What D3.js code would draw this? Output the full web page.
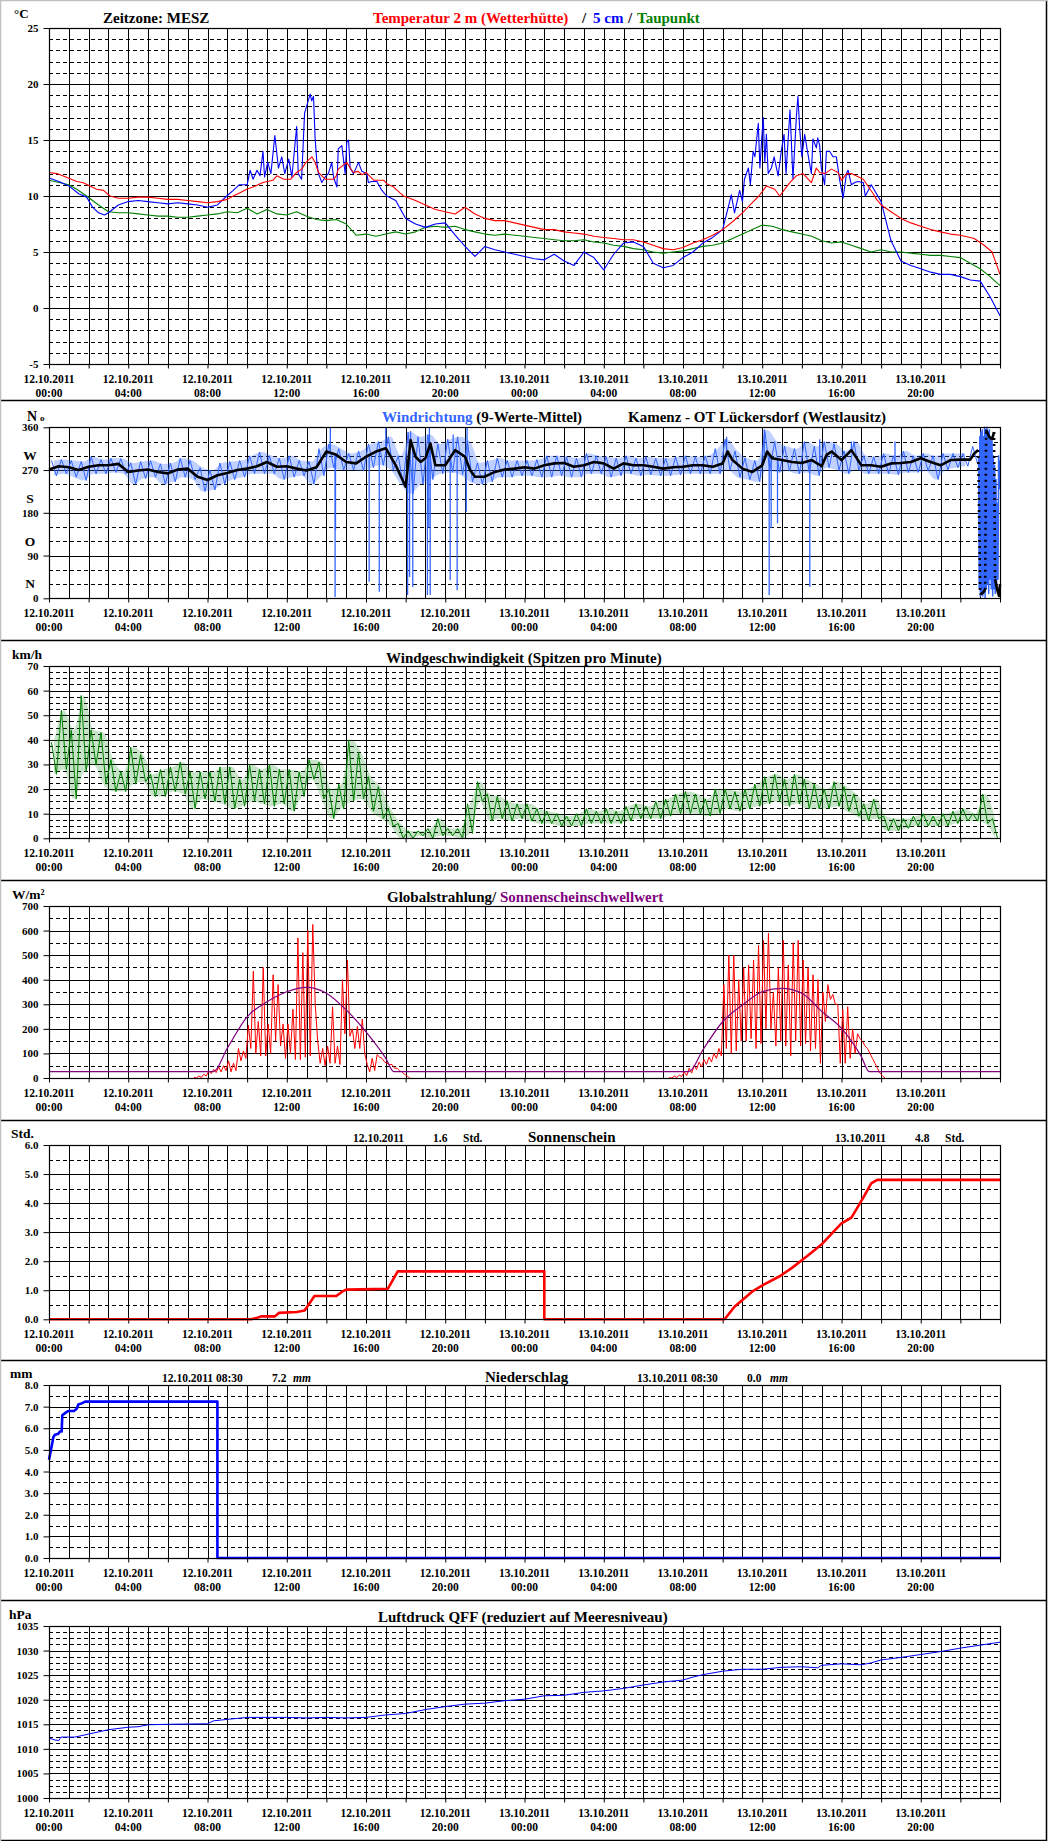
<!DOCTYPE html>
<html><head><meta charset="utf-8">
<script src="https://cdn.jsdelivr.net/npm/d3@7/dist/d3.min.js"></script>
<style>
body{margin:0;background:#fff;}
svg{display:block;}
text{font-family:"Liberation Serif","Times New Roman",serif;font-weight:bold;}
</style></head><body>
<svg id="c" width="1052" height="1841"></svg>
<script>
// ---------------- DATA ----------------
const xLabelHours = [0,4,8,12,16,20,24,28,32,36,40,44];
const xLabelDates = ["12.10.2011","12.10.2011","12.10.2011","12.10.2011","12.10.2011","12.10.2011","13.10.2011","13.10.2011","13.10.2011","13.10.2011","13.10.2011","13.10.2011"];
const xLabelTimes = ["00:00","04:00","08:00","12:00","16:00","20:00","00:00","04:00","08:00","12:00","16:00","20:00"];

// Temperature 2 m [hour, °C]
const temp2m = [[0,12.1],[0.4,12.0],[0.85,11.7],[1.4,11.3],[1.7,11.2],[2.07,10.9],[2.4,10.6],[2.75,10.5],[3.08,10.0],[3.5,9.8],[4,9.8],[4.5,9.9],[5,9.9],[5.5,9.8],[6,9.7],[6.5,9.7],[7,9.6],[7.5,9.5],[8,9.4],[8.5,9.5],[9.0,9.7],[9.3,10.0],[9.64,10.3],[9.98,10.6],[10.3,10.8],[10.8,11.2],[11.3,11.4],[11.5,11.8],[11.85,11.5],[12.2,11.5],[12.5,12.1],[12.75,12.4],[12.97,13.0],[13.27,13.5],[13.43,13.0],[13.6,12.1],[13.94,11.5],[14.36,11.5],[14.5,11.8],[14.6,12.4],[15.03,13.0],[15.2,12.5],[15.37,12.1],[15.6,12.2],[15.8,11.9],[16.0,12.1],[16.4,11.4],[16.9,11.4],[17.05,11.1],[17.4,10.8],[17.7,10.3],[17.9,10.0],[18.5,9.6],[19,9.2],[19.5,8.8],[20,8.6],[20.5,8.4],[21,9.0],[21.5,8.4],[22,8.0],[22.5,7.8],[23,7.8],[23.5,7.6],[24,7.4],[24.5,7.2],[25,7.0],[25.5,7.0],[26,6.8],[26.5,6.7],[27,6.6],[27.5,6.4],[28,6.3],[28.5,6.2],[29,6.1],[29.5,6.1],[30,5.9],[30.5,5.6],[31,5.3],[31.5,5.2],[32,5.4],[32.5,5.8],[33,6.1],[33.5,6.5],[34,7.0],[34.5,7.7],[35,8.5],[35.5,9.4],[35.83,10.0],[36.05,10.5],[36.21,10.9],[36.63,10.6],[36.88,10.0],[37.39,11.2],[37.72,11.8],[38.06,12.0],[38.48,11.2],[38.73,12.5],[38.9,12.1],[39.16,12.0],[39.49,12.4],[39.83,12.1],[40.0,11.4],[40.25,12.0],[40.5,12.0],[41.1,11.5],[41.6,10.2],[41.77,9.7],[42,9.2],[42.5,8.6],[43,8.0],[43.5,7.6],[44,7.3],[44.5,7.0],[45,6.8],[45.5,6.6],[46,6.5],[46.7,6.2],[47.2,5.6],[47.6,5.0],[48,3.0]];
// Temperature 5 cm [hour, °C]
const temp5cm = [[0,11.6],[0.5,11.3],[1,10.9],[1.5,10.2],[1.9,9.9],[2.2,9.0],[2.5,8.5],[2.8,8.3],[3,8.5],[3.5,9.2],[4,9.5],[4.5,9.6],[5,9.5],[5.5,9.4],[6,9.3],[6.5,9.4],[7,9.3],[7.5,9.2],[8,9.0],[8.5,9.2],[8.97,10.0],[9.3,10.5],[9.6,11.0],[10.0,11.0],[10.15,12.3],[10.3,11.5],[10.5,12.3],[10.65,11.8],[10.8,14.0],[10.88,11.7],[11.04,13.0],[11.2,12.0],[11.4,15.4],[11.58,12.5],[11.75,13.5],[11.9,12.0],[12.1,13.3],[12.26,11.7],[12.5,16.2],[12.58,12.0],[12.75,11.5],[12.9,17.4],[13.0,18.0],[13.18,19.1],[13.26,18.5],[13.35,18.9],[13.43,15.2],[13.52,13.0],[13.6,12.0],[13.77,11.2],[13.94,11.7],[14.1,12.0],[14.27,13.0],[14.36,11.7],[14.53,10.8],[14.6,14.2],[14.78,14.5],[14.95,12.0],[15.03,14.8],[15.12,15.0],[15.2,12.5],[15.37,12.0],[15.62,13.0],[15.79,12.2],[16.04,12.0],[16.12,11.2],[16.3,11.3],[16.55,11.3],[16.8,10.5],[17.05,10.0],[17.5,9.6],[18,8.0],[18.5,7.5],[19,7.2],[19.5,7.5],[20,7.6],[20.5,6.5],[21,5.5],[21.5,4.6],[22,5.5],[22.5,5.2],[23,5.0],[23.5,4.8],[24,4.6],[24.5,4.4],[25,4.3],[25.5,4.8],[26,4.2],[26.5,3.8],[27,5.0],[27.5,4.5],[28,3.4],[28.5,4.8],[29,5.8],[29.5,5.9],[30,5.5],[30.5,4.0],[31,3.6],[31.5,3.8],[32,4.5],[32.5,5.0],[33,5.8],[33.5,6.3],[34,7.0],[34.44,10.1],[34.6,8.5],[34.86,10.5],[35.0,9.5],[35.1,11.5],[35.3,12.5],[35.4,11.0],[35.54,14.0],[35.63,13.5],[35.8,16.5],[35.88,12.5],[35.97,15.0],[36.05,17.0],[36.13,13.0],[36.21,15.5],[36.3,12.0],[36.46,12.5],[36.6,13.5],[36.8,11.8],[36.96,14.0],[37.1,15.5],[37.2,12.0],[37.4,17.7],[37.55,11.5],[37.72,17.0],[37.8,18.9],[37.89,16.0],[38.0,13.5],[38.14,15.5],[38.3,13.8],[38.48,12.0],[38.56,15.1],[38.73,14.3],[38.8,15.2],[38.9,14.5],[38.98,12.5],[39.15,11.0],[39.24,14.0],[39.4,14.0],[39.57,13.5],[39.74,13.5],[39.9,11.5],[40.08,9.8],[40.25,12.0],[40.33,12.3],[40.5,11.0],[40.67,11.2],[40.83,11.3],[41.1,11.2],[41.2,10.0],[41.5,11.0],[42,9.5],[42.5,6.0],[43,4.2],[43.5,3.8],[44,3.5],[44.5,3.2],[45,3.0],[45.5,3.0],[46,2.8],[46.5,2.5],[47,2.4],[47.5,1.0],[48,-0.7]];
// Dew point [hour, °C]
const dewPoint = [[0,11.4],[0.5,11.2],[1,11.0],[1.4,10.6],[1.9,10.0],[2.5,9.2],[3,8.6],[3.5,8.5],[4,8.5],[4.5,8.4],[5,8.3],[5.5,8.2],[6,8.2],[6.5,8.1],[7,8.1],[7.5,8.2],[8,8.3],[8.5,8.4],[9,8.6],[9.5,8.5],[10,8.9],[10.5,8.4],[11,8.8],[11.5,8.4],[12,8.3],[12.5,8.6],[13,8.2],[13.5,7.9],[14,7.8],[14.5,7.9],[15,7.5],[15.5,6.5],[16,6.6],[16.5,6.4],[17,6.6],[17.5,6.8],[18,6.6],[18.5,6.8],[19,7.2],[19.5,7.3],[20,7.2],[20.5,7.3],[21,7.0],[21.5,6.8],[22,6.6],[22.5,6.5],[23,6.6],[23.5,6.5],[24,6.4],[24.5,6.3],[25,6.2],[25.5,6.1],[26,6.0],[26.5,6.0],[27,6.1],[27.5,5.9],[28,5.8],[28.5,5.6],[29,5.5],[29.5,5.3],[30,5.2],[30.5,5.0],[31,4.9],[31.5,5.0],[32,5.1],[32.5,5.3],[33,5.5],[33.5,5.6],[34,5.8],[34.5,6.2],[35,6.6],[35.5,7.0],[36,7.4],[36.5,7.3],[37,7.0],[37.5,6.8],[38,6.6],[38.5,6.4],[39,6.0],[39.5,5.8],[40,5.9],[40.5,5.6],[41,5.3],[41.5,5.0],[42,5.2],[42.5,5.0],[43,5.0],[43.5,4.9],[44,4.8],[44.5,4.7],[45,4.7],[45.5,4.6],[46,4.5],[46.5,4.0],[47,3.5],[47.5,2.8],[48,2.0]];

// Wind direction: raw range per 30-min bin (hi / lo), 9-value mean, spikes
const dirBinStart = 0, dirBinStep = 0.5;
const dirHi = [290,292,290,288,298,292,295,294,285,288,290,283,285,295,290,275,270,285,288,290,300,308,300,295,300,290,288,315,325,315,305,310,325,330,340,300,350,340,345,325,335,340,330,285,290,295,290,290,
               290,292,300,300,298,295,305,300,298,295,300,295,298,295,295,298,300,298,300,315,335,310,295,290,355,330,320,315,330,320,330,325,310,330,300,298,305,300,310,300,305,300,305,305,305,320];
const dirLo = [258,262,255,248,262,262,265,262,240,252,255,240,245,255,250,225,228,240,250,255,262,262,262,250,255,258,240,258,275,270,270,268,275,280,270,240,220,240,250,262,265,260,245,240,245,255,255,258,
               258,255,255,258,255,255,262,262,255,258,262,258,260,258,258,260,262,262,262,262,270,255,250,245,270,265,268,262,265,258,275,270,262,270,262,262,262,260,265,265,268,250,270,275,278,282];
const dirTail = [[46.92,300],[46.95,20],[46.98,340],[47.01,5],[47.04,350],[47.07,10],[47.1,355],[47.13,5],[47.16,340],[47.19,15],[47.22,360],[47.25,0],[47.28,355],[47.31,20],[47.34,360],[47.37,30],[47.4,350],[47.43,10],[47.46,355],[47.5,40],[47.53,340],[47.56,20],[47.6,330],[47.63,5],[47.66,300],[47.7,20],[47.73,280],[47.76,10],[47.8,250],[47.83,30],[47.86,200],[47.9,40],[47.93,300],[47.96,230],[48,290]];
const dirMean = [[0,271],[0.5,278],[1,276],[1.5,270],[2,277],[2.5,280],[3,280],[3.5,283],[4,266],[4.5,269],[5,271],[5.5,266],[6,263],[6.5,271],[7,273],[7.5,256],[8,249],[8.5,259],[9,264],[9.5,270],[10,273],[10.5,278],[11,287],[11.5,277],[12,278],[12.5,273],[13,269],[13.5,276],[14,309],[14.5,302],[15,287],[15.5,284],[16,298],[16.5,309],[17,316],[17.5,280],[18,235],[18.25,333],[18.5,298],[18.75,287],[19,295],[19.25,326],[19.5,280],[20,280],[20.5,312],[21,298],[21.25,270],[21.5,256],[22,256],[22.5,266],[23,271],[23.5,273],[24,276],[24.5,273],[25,280],[25.5,284],[26,285],[26.5,277],[27,280],[27.5,287],[28,284],[28.5,273],[29,284],[29.5,280],[30,280],[30.5,277],[31,273],[31.5,276],[32,277],[32.5,280],[33,280],[33.5,277],[34,284],[34.25,309],[34.5,291],[35,273],[35.5,266],[36,280],[36.25,309],[36.5,295],[37,291],[37.5,287],[38,285],[38.5,291],[39,278],[39.25,302],[39.5,309],[40,291],[40.5,312],[41,280],[41.5,280],[42,277],[42.5,284],[43,285],[43.5,287],[44,295],[44.5,287],[45,280],[45.5,291],[46,292],[46.5,292],[46.7,305],[46.9,312],[47.0,8],[47.15,12],[47.25,18],[47.3,355],[47.45,340],[47.6,335],[47.7,350],[47.75,40],[47.85,20],[47.95,5],[48,30]];
const dirSpikes = [[14.2,360],[14.44,3],[14.46,144],[16.16,35],[16.67,14],[17.0,360],[18.1,7],[18.2,45],[18.25,352],[18.36,24],[19.1,7],[19.17,150],[19.2,360],[19.24,7],[20.25,38],[20.4,345],[20.6,17],[21.06,182],[21.1,360],[34.2,340],[36.1,355],[36.35,7],[36.45,148],[36.77,158],[38.4,24],[38.9,335],[40.5,330],[42.7,330]];

// Wind speed peaks (km/h): range per 30-min bin
const windBinStart = 0, windBinStep = 0.5;
const windHi = [39,52,44,58,44,43,32,27,37,34,26,28,29,31,27,27,27,29,29,24,30,28,30,28,28,27,32,31,20,22,40,35,25,21,12,6,3,3,4,8,4,4,14,23,18,17,15,14,
                14,12,11,10,9,10,12,11,12,11,13,14,13,15,16,18,19,18,16,20,20,19,20,22,25,26,24,26,24,22,20,23,21,18,14,16,9,8,8,9,10,9,10,11,12,10,18,8];
const windLo = [26,28,16,27,30,22,19,19,22,23,17,17,19,18,12,16,15,14,12,13,15,14,13,14,11,17,24,16,8,12,15,16,11,8,5,0,0,1,0,1,1,0,2,15,7,8,7,8,
                7,6,6,5,5,5,6,6,6,6,7,8,8,8,9,10,10,10,9,10,12,11,12,13,14,15,13,14,12,12,12,13,11,9,7,8,3,3,4,5,5,5,5,6,7,7,6,0];

// Global radiation (W/m²): range per 15-min bin during daylight
const radStep = 0.25;
const rad12Start = 7.25;
const rad12Hi = [3,8,15,28,35,45,50,70,60,120,110,215,435,230,450,220,420,380,220,220,280,570,510,600,625,150,120,130,290,130,400,480,200,210,240,55,80,95,80,60,55,40,25,10];
const rad12Lo = [0,2,8,18,22,25,30,25,30,70,80,120,100,90,90,100,150,130,80,100,75,75,85,90,300,60,50,60,60,55,180,170,120,120,100,25,30,85,65,55,40,30,15,0];
const rad13Start = 31.25;
const rad13Hi = [2,8,12,25,40,50,65,75,85,100,120,380,500,500,400,450,460,480,540,560,590,350,450,560,460,550,560,480,450,420,400,350,380,340,300,280,290,200,180,150,120,80,40,10];
const rad13Lo = [0,2,6,10,20,35,45,55,65,80,90,120,100,110,150,150,160,120,140,200,200,130,150,130,90,150,130,140,110,120,60,230,320,300,60,60,80,100,160,130,100,60,20,0];
// Sunshine threshold [hour, W/m²]
const sunThreshold = [[0,26],[8.3,26],[9,121],[10,249],[11,310],[12,351],[13,369],[14,345],[15,277],[16,188],[17,80],[17.4,26],[32.3,26],[33,114],[34,229],[35,297],[36,351],[37,365],[38,345],[39,271],[40,202],[41,87],[41.4,26],[48,26]];

// Sunshine duration (h) cumulative [hour, value]
const sunshine = [[0,0],[10.2,0],[10.5,0.05],[10.7,0.1],[11.4,0.1],[11.6,0.22],[12.5,0.25],[12.9,0.3],[13.1,0.5],[13.4,0.8],[14.5,0.8],[14.8,0.95],[15.0,1.02],[17.1,1.05],[17.6,1.65],[25.0,1.65],[25.0,0],[34.1,0],[34.6,0.43],[35.5,0.96],[36.1,1.2],[36.9,1.49],[37.5,1.77],[38.4,2.25],[39.0,2.58],[39.6,3.02],[40.0,3.3],[40.5,3.5],[41.1,4.19],[41.5,4.68],[41.8,4.8],[48,4.8]];
const sunTotals = [{date:"12.10.2011", value:"1.6"},{date:"13.10.2011", value:"4.8"}];

// Precipitation (mm) cumulative [hour, value]
const precip = [[0,4.54],[0.05,4.77],[0.13,5.15],[0.22,5.6],[0.3,5.7],[0.47,5.75],[0.55,5.85],[0.64,5.85],[0.67,6.6],[0.81,6.7],[0.98,6.8],[1.26,6.8],[1.4,6.9],[1.48,7.1],[1.65,7.15],[1.82,7.23],[8.5,7.23],[8.5,0],[48,0]];
const precipTotals = [{date:"12.10.2011 08:30", value:"7.2"},{date:"13.10.2011 08:30", value:"0.0"}];

// Pressure QFF (hPa) [hour, value]
const pressure = [[0,1012.2],[0.3,1011.8],[0.5,1011.7],[0.6,1012.4],[1.3,1012.4],[2,1013.0],[3,1013.9],[4,1014.4],[4.5,1014.5],[5,1014.9],[6,1015.0],[8,1015.1],[8.3,1015.7],[9,1016.0],[9.5,1016.2],[10,1016.4],[12,1016.4],[13,1016.3],[14,1016.4],[15,1016.3],[16,1016.4],[17,1016.9],[18,1017.2],[19,1018.0],[20,1018.6],[21,1019.1],[22,1019.3],[23,1019.8],[24,1020.1],[25,1020.8],[26,1020.9],[27,1021.5],[28,1021.8],[29,1022.3],[30,1023.0],[31,1023.6],[32,1024.0],[32.5,1024.6],[33,1025.1],[34,1025.8],[35,1026.2],[36,1026.2],[37,1026.6],[38,1026.7],[38.8,1026.5],[39,1027.0],[40,1027.3],[41,1027.1],[41.5,1027.5],[42,1028.1],[43,1028.6],[44,1029.2],[45,1029.8],[46,1030.5],[47,1031.1],[48,1031.7]];

// ---------------- DRAWING ----------------
const svg = d3.select("#c");
const W = 1052, H = 1841;
const X0 = 49, X1 = 1000;
const x = d3.scaleLinear().domain([0, 48]).range([X0, X1]);

svg.append("rect").attr("width", W).attr("height", H).attr("fill", "#fff");

function panel(cfg) {
  const y = d3.scaleLinear().domain(cfg.domain).range([cfg.bottom, cfg.top]);
  const g = svg.append("g");
  const eps = 1e-6;
  const all = d3.range(cfg.domain[0], cfg.domain[1] + eps, cfg.minor);
  const minors = all.filter(v => Math.abs(Math.round(v / cfg.major) * cfg.major - v) > eps);
  const majors = d3.range(cfg.domain[0], cfg.domain[1] + eps, cfg.major);
  g.selectAll(".mn").data(minors).join("line")
    .attr("x1", X0).attr("x2", X1).attr("y1", d => Math.round(y(d)) + 0.5).attr("y2", d => Math.round(y(d)) + 0.5)
    .attr("stroke", "#000").attr("stroke-width", 1).attr("stroke-dasharray", "4,3");
  g.selectAll(".mj").data(majors).join("line")
    .attr("x1", X0).attr("x2", X1).attr("y1", d => Math.round(y(d)) + 0.5).attr("y2", d => Math.round(y(d)) + 0.5)
    .attr("stroke", "#000").attr("stroke-width", 1);
  g.selectAll(".vl").data(d3.range(0, 49, 1)).join("line")
    .attr("x1", d => Math.round(x(d)) + 0.5).attr("x2", d => Math.round(x(d)) + 0.5)
    .attr("y1", cfg.top).attr("y2", cfg.bottom)
    .attr("stroke", "#000").attr("stroke-width", 1);
  const ay = g.append("g").attr("transform", `translate(${Math.round(X0)+0.5},0)`)
    .call(d3.axisLeft(y).tickValues(majors).tickSize(6).tickPadding(5).tickFormat(cfg.fmt || (d => d)));
  ay.select(".domain").remove();
  ay.selectAll("line").attr("stroke", "#000");
  ay.selectAll("text").attr("font-size", 11).attr("fill", "#000")
    .attr("font-family", '"Liberation Serif","Times New Roman",serif').attr("font-weight", "bold");
  const ax = g.append("g").attr("transform", `translate(0,${Math.round(cfg.bottom)+0.5})`)
    .call(d3.axisBottom(x).tickValues(d3.range(0, 49, 2)).tickSize(4).tickFormat(""));
  ax.select(".domain").remove();
  ax.selectAll("line").attr("stroke", "#000");
  const lab = g.selectAll(".xl").data(xLabelHours).join("text")
    .attr("text-anchor", "middle").attr("font-size", 11.5).attr("fill", "#000");
  lab.append("tspan").attr("x", d => x(d)).attr("y", cfg.bottom + 19).text((d, i) => xLabelDates[i]);
  lab.append("tspan").attr("x", d => x(d)).attr("y", cfg.bottom + 33).text((d, i) => xLabelTimes[i]);
  return {y, g};
}

function frame(cfg) {
  svg.append("rect").attr("x", Math.round(X0) + 0.5).attr("y", Math.round(cfg.top) + 0.5)
    .attr("width", Math.round(X1) - Math.round(X0)).attr("height", Math.round(cfg.bottom) - Math.round(cfg.top))
    .attr("fill", "none").attr("stroke", "#000").attr("stroke-width", 1.2);
}

function txt(s, px, py, size, fill, extra) {
  const t = svg.append("text").attr("x", px).attr("y", py).attr("font-size", size).attr("fill", fill || "#000").text(s);
  if (extra) extra(t);
  return t;
}

function drawLine(y, data, color, width, curve, extra) {
  const p = svg.append("path").datum(data)
    .attr("d", d3.line().x(d => x(d[0])).y(d => y(d[1])).curve(curve || d3.curveLinear))
    .attr("fill", "none").attr("stroke", color).attr("stroke-width", width).attr("stroke-linejoin", "round");
  if (extra) extra(p);
  return p;
}

function zigzag(start, step, hi, lo) {
  const pts = [];
  hi.forEach((h, i) => {
    const t = start + i * step;
    pts.push([t + step * 0.25, h]);
    pts.push([t + step * 0.75, lo[i]]);
  });
  return pts;
}
function band(y, start, step, hi, lo, color, op) {
  const rows = hi.map((h, i) => ({t: start + (i + 0.5) * step, hi: h, lo: lo[i]}));
  svg.append("path").datum(rows)
    .attr("d", d3.area().x(d => x(d.t)).y0(d => y(d.lo)).y1(d => y(d.hi)).curve(d3.curveMonotoneX))
    .attr("fill", color).attr("fill-opacity", op).attr("stroke", "none");
}

// ---- Panel 1: Temperature ----
const P1 = {top: 28, bottom: 364, domain: [-5, 25], major: 5, minor: 1};
const p1 = panel(P1);
drawLine(p1.y, dewPoint, "#008000", 1.1);
drawLine(p1.y, temp5cm, "#0000ff", 1.1);
drawLine(p1.y, temp2m, "#ff0000", 1.1);
frame(P1);
txt("°C", 14, 18, 13);
txt("Zeitzone: MESZ", 103, 23, 15);
txt("Temperatur 2 m (Wetterhütte)", 373, 23, 15, "#ff0000");
txt("/", 582, 23, 15, "#000");
txt("5 cm", 593, 23, 15, "#0000ff");
txt("/", 628, 23, 15, "#000");
txt("Taupunkt", 637, 23, 15, "#008000");

// ---- Panel 2: Wind direction ----
const P2 = {top: 427.3, bottom: 598.3, domain: [0, 360], major: 90, minor: 30};
const p2 = panel(P2);
const DIRBLUE = "#3366ff";
band(p2.y, dirBinStart, dirBinStep, dirHi.slice(0, 93), dirLo.slice(0, 93), DIRBLUE, 0.3);
drawLine(p2.y, zigzag(dirBinStart, dirBinStep, dirHi.slice(0, 94), dirLo.slice(0, 94)), DIRBLUE, 1);
drawLine(p2.y, dirTail, DIRBLUE, 1.5);
const meanInterp = h => {
  const i = d3.bisector(d => d[0]).left(dirMean, h);
  const a = dirMean[Math.max(0, i - 1)], b = dirMean[Math.min(dirMean.length - 1, i)];
  return b[0] === a[0] ? a[1] : a[1] + (b[1] - a[1]) * (h - a[0]) / (b[0] - a[0]);
};
svg.selectAll(".spk").data(dirSpikes).join("line")
  .attr("x1", d => x(d[0])).attr("x2", d => x(d[0]))
  .attr("y1", d => p2.y(meanInterp(d[0]))).attr("y2", d => p2.y(d[1]))
  .attr("stroke", DIRBLUE).attr("stroke-width", 1.3);
{
  const segs = [], jumps = [];
  let cur = [dirMean[0]];
  for (let i = 1; i < dirMean.length; i++) {
    const a = dirMean[i - 1], b = dirMean[i];
    if (Math.abs(b[1] - a[1]) > 150) { segs.push(cur); jumps.push([a, b]); cur = [b]; }
    else cur.push(b);
  }
  segs.push(cur);
  segs.forEach(s => drawLine(p2.y, s, "#000", 2.6));
  jumps.forEach(j => drawLine(p2.y, j, "#000", 2.6, null, p => p.attr("stroke-dasharray", "2,4")));
}
frame(P2);
txt("N", 27, 421, 14);
txt("o", 40, 421, 9);
[["W", 270], ["S", 180], ["O", 90], ["N", 0]].forEach(([l, v]) => txt(l, 30, p2.y(v) - 10, 13.5, "#000", t => t.attr("text-anchor", "middle")));
{
  const t = svg.append("text").attr("x", 382).attr("y", 422).attr("font-size", 15);
  t.append("tspan").attr("fill", DIRBLUE).text("Windrichtung");
  t.append("tspan").attr("fill", "#000").text(" (9-Werte-Mittel)");
}
txt("Kamenz - OT Lückersdorf (Westlausitz)", 628, 422, 15);

// ---- Panel 3: Wind speed ----
const P3 = {top: 666, bottom: 838.3, domain: [0, 70], major: 10, minor: 2.5};
const p3 = panel(P3);
band(p3.y, windBinStart, windBinStep, windHi, windLo, "#008000", 0.22);
drawLine(p3.y, zigzag(windBinStart, windBinStep, windHi, windLo), "#008000", 1);
frame(P3);
txt("km/h", 12, 659, 13.5);
txt("Windgeschwindigkeit (Spitzen pro Minute)", 386, 663, 15);

// ---- Panel 4: Radiation ----
const P4 = {top: 906, bottom: 1078, domain: [0, 700], major: 100, minor: 50};
const p4 = panel(P4);
drawLine(p4.y, zigzag(rad12Start, radStep, rad12Hi, rad12Lo), "#ff0000", 1);
drawLine(p4.y, zigzag(rad13Start, radStep, rad13Hi, rad13Lo), "#ff0000", 1);
drawLine(p4.y, sunThreshold, "#800080", 1.2, d3.curveMonotoneX);
frame(P4);
txt("W/m²", 12, 899, 13.5);
{
  const t = svg.append("text").attr("x", 387).attr("y", 902).attr("font-size", 15);
  t.append("tspan").attr("fill", "#000").text("Globalstrahlung/ ");
  t.append("tspan").attr("fill", "#800080").text("Sonnenscheinschwellwert");
}

// ---- Panel 5: Sunshine ----
const P5 = {top: 1145, bottom: 1319.3, domain: [0, 6], major: 1, minor: 0.5, fmt: d3.format(".1f")};
const p5 = panel(P5);
drawLine(p5.y, sunshine, "#ff0000", 2.6);
frame(P5);
txt("Std.", 11, 1138, 13.5);
txt(sunTotals[0].date, 353, 1142, 11.5);
txt(sunTotals[0].value, 433, 1142, 11.5);
txt("Std.", 463, 1142, 11.5);
txt("Sonnenschein", 528, 1142, 15);
txt(sunTotals[1].date, 835, 1142, 11.5);
txt(sunTotals[1].value, 915, 1142, 11.5);
txt("Std.", 945, 1142, 11.5);

// ---- Panel 6: Precipitation ----
const P6 = {top: 1385, bottom: 1558, domain: [0, 8], major: 1, minor: 0.5, fmt: d3.format(".1f")};
const p6 = panel(P6);
drawLine(p6.y, precip, "#0000ff", 2.6);
frame(P6);
txt("mm", 10, 1378, 13.5);
txt(precipTotals[0].date, 162, 1382, 11.5);
txt(precipTotals[0].value, 272, 1382, 11.5);
txt("mm", 293, 1382, 11.5, "#000", t => t.attr("font-style", "italic"));
txt("Niederschlag", 485, 1382, 15);
txt(precipTotals[1].date, 637, 1382, 11.5);
txt(precipTotals[1].value, 747, 1382, 11.5);
txt("mm", 770, 1382, 11.5, "#000", t => t.attr("font-style", "italic"));

// ---- Panel 7: Pressure ----
const P7 = {top: 1626, bottom: 1798, domain: [1000, 1035], major: 5, minor: 1.25};
const p7 = panel(P7);
drawLine(p7.y, pressure, "#0000ff", 1);
frame(P7);
txt("hPa", 9, 1619, 13.5);
txt("Luftdruck QFF (reduziert auf Meeresniveau)", 378, 1622, 15);

// ---- outer borders / separators ----
[400, 640, 880, 1120, 1360, 1600, 1840].forEach(yy => {
  svg.append("line").attr("x1", 0).attr("x2", 1047).attr("y1", yy + 0.5).attr("y2", yy + 0.5)
    .attr("stroke", "#000").attr("stroke-width", 1.5);
});
svg.append("line").attr("x1", 1046.5).attr("x2", 1046.5).attr("y1", 0).attr("y2", 1841).attr("stroke", "#000").attr("stroke-width", 1.5);
svg.append("line").attr("x1", 0).attr("x2", 1047).attr("y1", 0.5).attr("y2", 0.5).attr("stroke", "#c0c0c0").attr("stroke-width", 1.5);
svg.append("line").attr("x1", 0.5).attr("x2", 0.5).attr("y1", 0).attr("y2", 1841).attr("stroke", "#c0c0c0").attr("stroke-width", 1.5);
</script>
</body></html>
